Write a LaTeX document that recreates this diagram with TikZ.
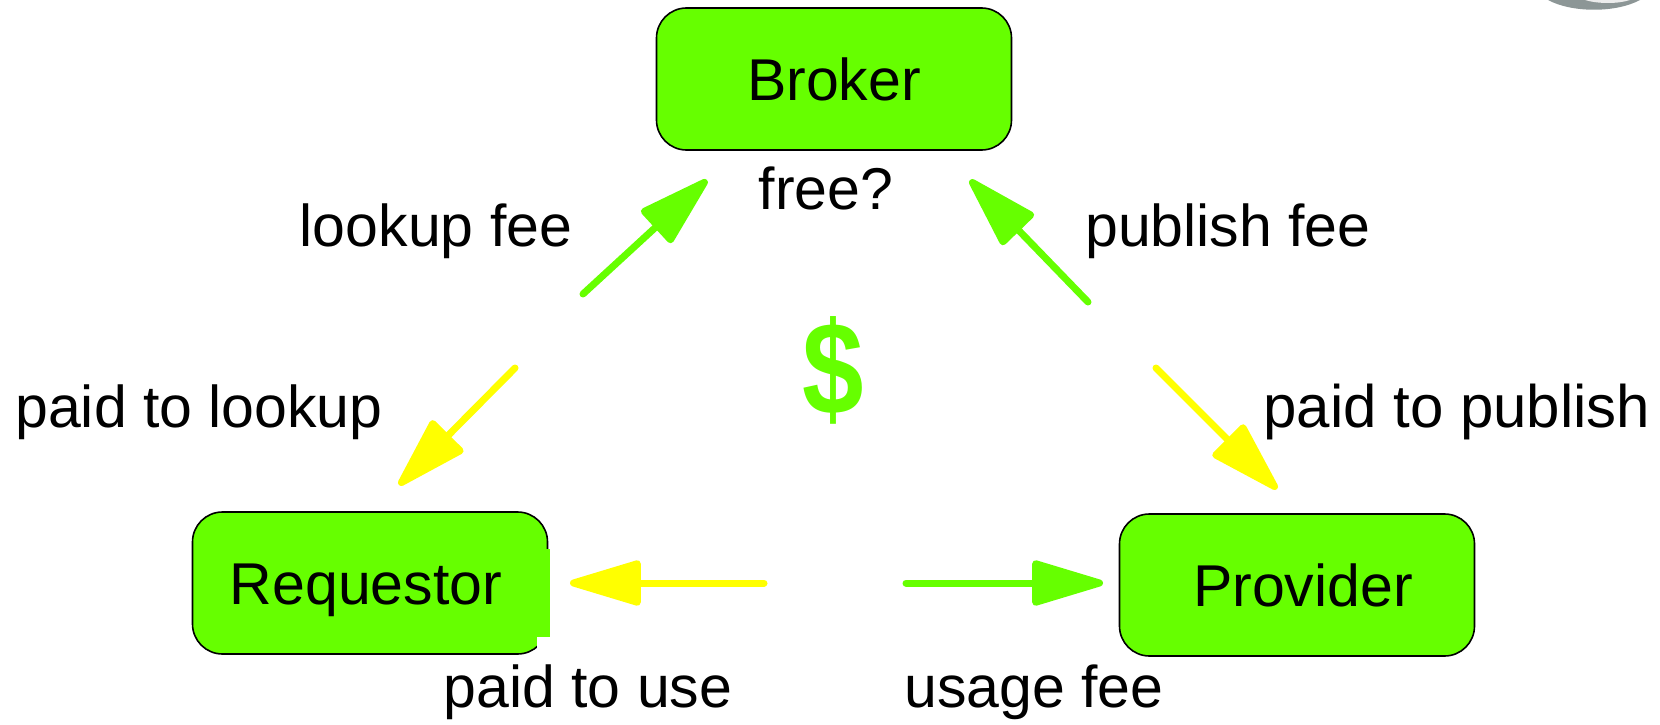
\documentclass[tikz,border=0pt]{standalone}
\usepackage{fontspec}
\usepackage{graphicx}
\setmainfont{Liberation Sans}
\usetikzlibrary{arrows.meta}
\definecolor{boxgreen}{RGB}{102,255,0}
\definecolor{payyellow}{RGB}{255,255,0}
\definecolor{logogray}{RGB}{140,150,150}
\begin{document}
\begin{tikzpicture}[x=1pt,y=-1pt,
  party/.style={draw=black, line width=1.6pt, fill=boxgreen, rounded corners=30pt,
    minimum width=355pt, minimum height=142pt, inner sep=0pt,
    text height=43pt, text depth=0pt, font=\fontsize{59}{70}\selectfont},
  tag/.style={anchor=base, inner sep=0pt, font=\fontsize{59}{70}\selectfont},
  flow/.style={line width=7pt, line cap=round, line join=round,
    -{Triangle[length=80pt,width=46pt,round]}},
  fee/.style={flow, draw=boxgreen},
  payment/.style={flow, draw=payyellow}]
\useasboundingbox (0,0) rectangle (1660,725);

% logo remnant in the top right corner
\fill[logogray] (1548,0) .. controls (1572,13) and (1616,13) .. (1640,0) -- cycle;
\fill[gray!15] (1585,0) .. controls (1598,4) and (1618,4) .. (1630,0) -- cycle;

% the three parties
\node[party] (broker) at (834,79) {Broker};
\node[party] (requestor) at (370,583) {\hspace*{-8pt}Requestor};
\node[party] (provider) at (1297,585) {\hspace*{12pt}Provider};

% patch over the lower right edge of the requestor box
\fill[boxgreen] (540,549) rectangle (549.5,637);
\fill[white] (537,637) rectangle (552,657);

% money flows
\coordinate (lfTail) at (583,294);  \coordinate (lfTip) at (707,180);
\coordinate (pfTail) at (1088,302); \coordinate (pfTip) at (970,180);
\coordinate (plTail) at (515,368);  \coordinate (plTip) at (399,485);
\coordinate (ppTail) at (1156,368); \coordinate (ppTip) at (1277,489);
\coordinate (puTail) at (764,583);  \coordinate (puTip) at (570,583);
\coordinate (ufTail) at (906,583);  \coordinate (ufTip) at (1103,583);

\draw[fee] (lfTail) -- (lfTip);
\draw[fee] (pfTail) -- (pfTip);
\draw[payment] (plTail) -- (plTip);
\draw[payment] (ppTail) -- (ppTip);
\draw[payment] (puTail) -- (puTip);
\draw[fee] (ufTail) -- (ufTip);

% labels
\node[tag] (free) at (826,209) {free?};
\node[tag] (lookupfee) at (436,246) {lookup fee};
\node[tag] (publishfee) at (1228,246) {publish fee};
\node[tag] (paidlookup) at (199,427) {paid to lookup};
\node[tag, font=\fontsize{60}{70}\selectfont] (paidpublish) at (1457,427) {paid to publish};
\node[tag] (paiduse) at (588,707) {paid to use};
\node[tag] (usagefee) at (1034,707) {usage fee};

\node[inner sep=0pt, text=boxgreen, font=\fontsize{120}{140}\selectfont\bfseries] (dollar) at (833,370) {\scalebox{0.92}[1.1]{\$}};
\end{tikzpicture}
\end{document}
